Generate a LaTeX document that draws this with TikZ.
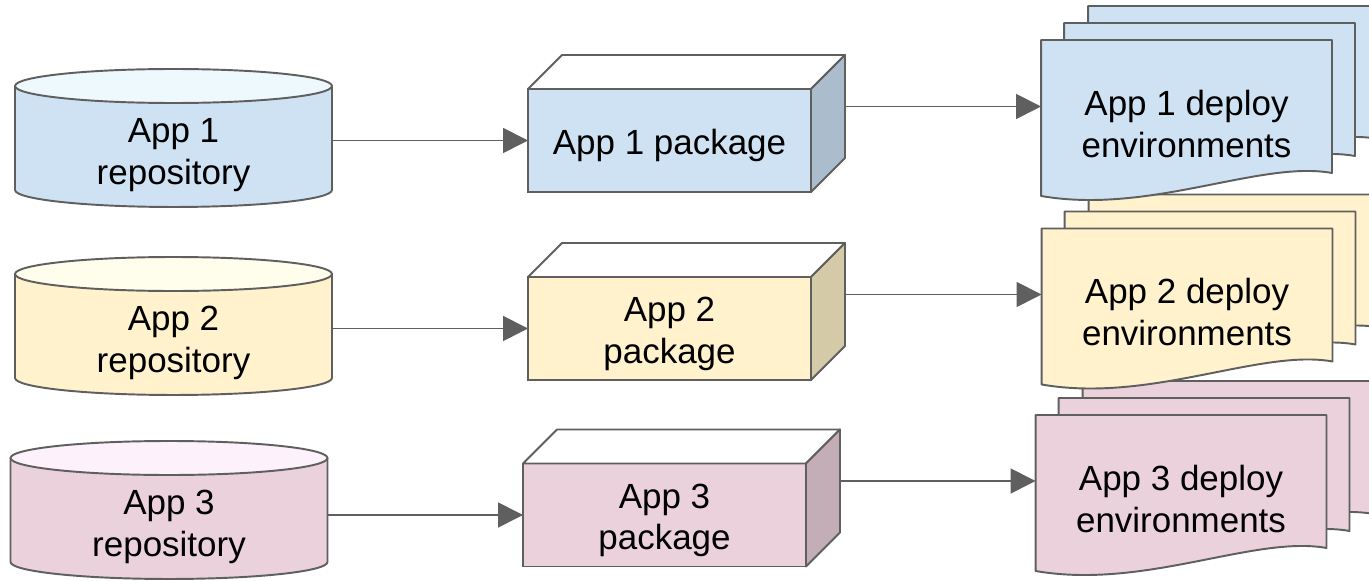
\documentclass[tikz,border=0pt]{standalone}
\usepackage{fontspec}
\setmainfont{Liberation Sans}
\usetikzlibrary{arrows.meta, backgrounds}

\definecolor{edgegray}{HTML}{5F5F5F}
\definecolor{blueBody}{HTML}{CFE2F3}
\definecolor{blueLid}{HTML}{EEF9FE}
\definecolor{blueSide}{HTML}{ABBDCD}
\definecolor{yellowBody}{HTML}{FFF2CC}
\definecolor{yellowLid}{HTML}{FFFDEC}
\definecolor{yellowSide}{HTML}{D5CAA8}
\definecolor{pinkBody}{HTML}{EAD1DC}
\definecolor{pinkLid}{HTML}{FDF1FB}
\definecolor{pinkSide}{HTML}{C3AEB7}

% a tall first line pushes the text a little lower in its shape
\newcommand{\lift}{\rule{0pt}{20pt}}

\tikzset{
  boxtext/.style={font=\fontsize{19.9}{23.8}\selectfont, align=center, inner sep=0pt, outer sep=0pt},
  repo/.style={boxtext, minimum width=6.34cm, minimum height=2.08cm},
  package/.style={boxtext, draw=edgegray, line width=1.1pt, minimum width=5.66cm, minimum height=2.06cm},
  envs/.style={boxtext, minimum width=5.82cm, minimum height=3.16cm},
  outline/.style={draw=edgegray, line width=1.1pt, line join=round},
  flow/.style={draw=edgegray, line width=0.85pt, -{Triangle[length=0.5cm, width=0.5cm]}},
}

% one sheet of an environment stack, moved by (#2,#3) from node #1
\newcommand{\envsheet}[4]{%
  \draw[outline, fill=#4]
    ([shift={(#2,#3)}]#1.north west) -- ([shift={(#2,#3)}]#1.north east)
    -- ([shift={(#2,#3+25)}]#1.south east)
    .. controls ([shift={(#2-72,#3+38)}]#1.south east) and ([shift={(#2+109,#3-17)}]#1.south west)
    .. ([shift={(#2,#3+2)}]#1.south west) -- cycle;}

\begin{document}
\begin{tikzpicture}[x=0.02cm, y=0.02cm]
\useasboundingbox (0,0) rectangle (1369,581);

% bottom row first, so each stack lies over the one below it
\foreach \i/\body/\lid/\side/\rx/\ry/\px/\py/\ex/\ey/\pkgtext in {
    3/pinkBody/pinkLid/pinkSide/169/54/664.5/66/1181/87/{App 3\\package},
    2/yellowBody/yellowLid/yellowSide/173.5/238/669.5/252.5/1187/273.5/{App 2\\package},
    1/blueBody/blueLid/blueSide/173.5/426/669.5/440.5/1186.5/462/{App 1 package}} {
  \node[repo] (repo\i) at (\rx,\ry) {App \i\\repository};
  \node[package, fill=\body] (pkg\i) at (\px,\py) {\lift\pkgtext};
  \node[envs] (env\i) at (\ex,\ey) {\lift App \i{} deploy\\environments};

  \begin{scope}[on background layer]
    % cylinder
    \draw[outline, fill=\body] ([shift={(0,17)}]repo\i.north west) -- ([shift={(0,17)}]repo\i.south west)
      arc[start angle=180, end angle=360, x radius=3.17cm, y radius=0.34cm]
      -- ([shift={(0,17)}]repo\i.north east) -- cycle;
    \draw[outline, fill=\lid] ([shift={(0,17)}]repo\i.north) ellipse [x radius=3.17cm, y radius=0.34cm];
    % stack of sheets
    \envsheet{env\i}{47}{34}{\body}
    \envsheet{env\i}{23}{17}{\body}
    \envsheet{env\i}{0}{0}{\body}
  \end{scope}

  % box top and side
  \draw[outline, fill=white] (pkg\i.north west) -- ++(34,34) -- ([shift={(34,34)}]pkg\i.north east) -- (pkg\i.north east) -- cycle;
  \draw[outline, fill=\side] (pkg\i.north east) -- ++(34,34) -- ([shift={(34,34)}]pkg\i.south east) -- (pkg\i.south east) -- cycle;
  \coordinate (pkgback\i) at ([shift={(34,34)}]pkg\i.east);

  \draw[flow] (repo\i.east |- pkg\i.west) -- (pkg\i.west);
  \draw[flow] (pkgback\i) -- (pkgback\i -| env\i.west);
}
\end{tikzpicture}
\end{document}
